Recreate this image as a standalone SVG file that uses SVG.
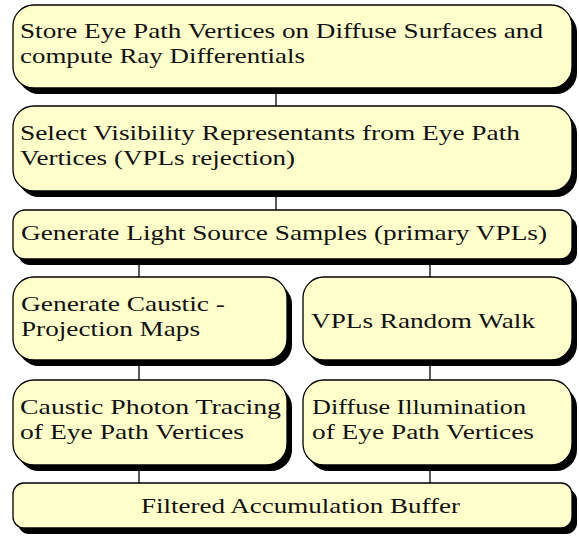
<svg xmlns="http://www.w3.org/2000/svg" width="579" height="536" viewBox="0 0 579 536">
<style>
.sh{fill:#000}
.bx{fill:#ffffcc;stroke:#000;stroke-width:1.3}
.t{font-family:'Liberation Serif',serif;font-size:22px;fill:#111}
.c{stroke:#000;stroke-width:1.3;fill:none}
</style>
<rect width="579" height="536" fill="#fff"/>
<g id="connectors">
<line class="c" x1="276" y1="94" x2="276" y2="106"/>
<line class="c" x1="276" y1="197" x2="276" y2="210"/>
<line class="c" x1="139" y1="265" x2="139" y2="277"/>
<line class="c" x1="430" y1="265" x2="430" y2="277"/>
<line class="c" x1="139" y1="366" x2="139" y2="380"/>
<line class="c" x1="430" y1="366" x2="430" y2="380"/>
<line class="c" x1="139" y1="471" x2="139" y2="483"/>
<line class="c" x1="430" y1="471" x2="430" y2="483"/>
</g>
<g id="n1">
<rect class="sh" x="18" y="11" width="559" height="83" rx="21"/>
<rect class="bx" x="13" y="5" width="559" height="83" rx="21"/>
<text class="t" x="20" y="38" textLength="523" lengthAdjust="spacingAndGlyphs">Store Eye Path Vertices on Diffuse Surfaces and</text>
<text class="t" x="20" y="63" textLength="285" lengthAdjust="spacingAndGlyphs">compute Ray Differentials</text>
</g>
<g id="n2">
<rect class="sh" x="18" y="112" width="559" height="85" rx="21"/>
<rect class="bx" x="13" y="106" width="559" height="85" rx="21"/>
<text class="t" x="20" y="140" textLength="500" lengthAdjust="spacingAndGlyphs">Select Visibility Representants from Eye Path</text>
<text class="t" x="20" y="165" textLength="275" lengthAdjust="spacingAndGlyphs">Vertices (VPLs rejection)</text>
</g>
<g id="n3">
<rect class="sh" x="18" y="216" width="559" height="49" rx="12"/>
<rect class="bx" x="13" y="210" width="559" height="49" rx="12"/>
<text class="t" x="21" y="240" textLength="526" lengthAdjust="spacingAndGlyphs">Generate Light Source Samples (primary VPLs)</text>
</g>
<g id="n4">
<rect class="sh" x="18" y="283" width="274" height="83" rx="21"/>
<rect class="bx" x="13" y="277" width="274" height="83" rx="21"/>
<text class="t" x="21" y="311" textLength="204" lengthAdjust="spacingAndGlyphs">Generate Caustic -</text>
<text class="t" x="21" y="336" textLength="179" lengthAdjust="spacingAndGlyphs">Projection Maps</text>
</g>
<g id="n5">
<rect class="sh" x="308" y="283" width="269" height="83" rx="21"/>
<rect class="bx" x="303" y="277" width="269" height="83" rx="21"/>
<text class="t" x="311" y="328" textLength="224" lengthAdjust="spacingAndGlyphs">VPLs Random Walk</text>
</g>
<g id="n6">
<rect class="sh" x="18" y="386" width="274" height="85" rx="21"/>
<rect class="bx" x="13" y="380" width="274" height="85" rx="21"/>
<text class="t" x="20" y="414" textLength="261" lengthAdjust="spacingAndGlyphs">Caustic Photon Tracing</text>
<text class="t" x="20" y="439" textLength="224" lengthAdjust="spacingAndGlyphs">of Eye Path Vertices</text>
</g>
<g id="n7">
<rect class="sh" x="308" y="386" width="269" height="85" rx="21"/>
<rect class="bx" x="303" y="380" width="269" height="85" rx="21"/>
<text class="t" x="312" y="414" textLength="214" lengthAdjust="spacingAndGlyphs">Diffuse Illumination</text>
<text class="t" x="312" y="439" textLength="222" lengthAdjust="spacingAndGlyphs">of Eye Path Vertices</text>
</g>
<g id="n8">
<rect class="sh" x="18" y="489" width="559" height="45" rx="11"/>
<rect class="bx" x="13" y="483" width="559" height="45" rx="11"/>
<text class="t" x="141" y="513" textLength="319" lengthAdjust="spacingAndGlyphs">Filtered Accumulation Buffer</text>
</g>
</svg>
